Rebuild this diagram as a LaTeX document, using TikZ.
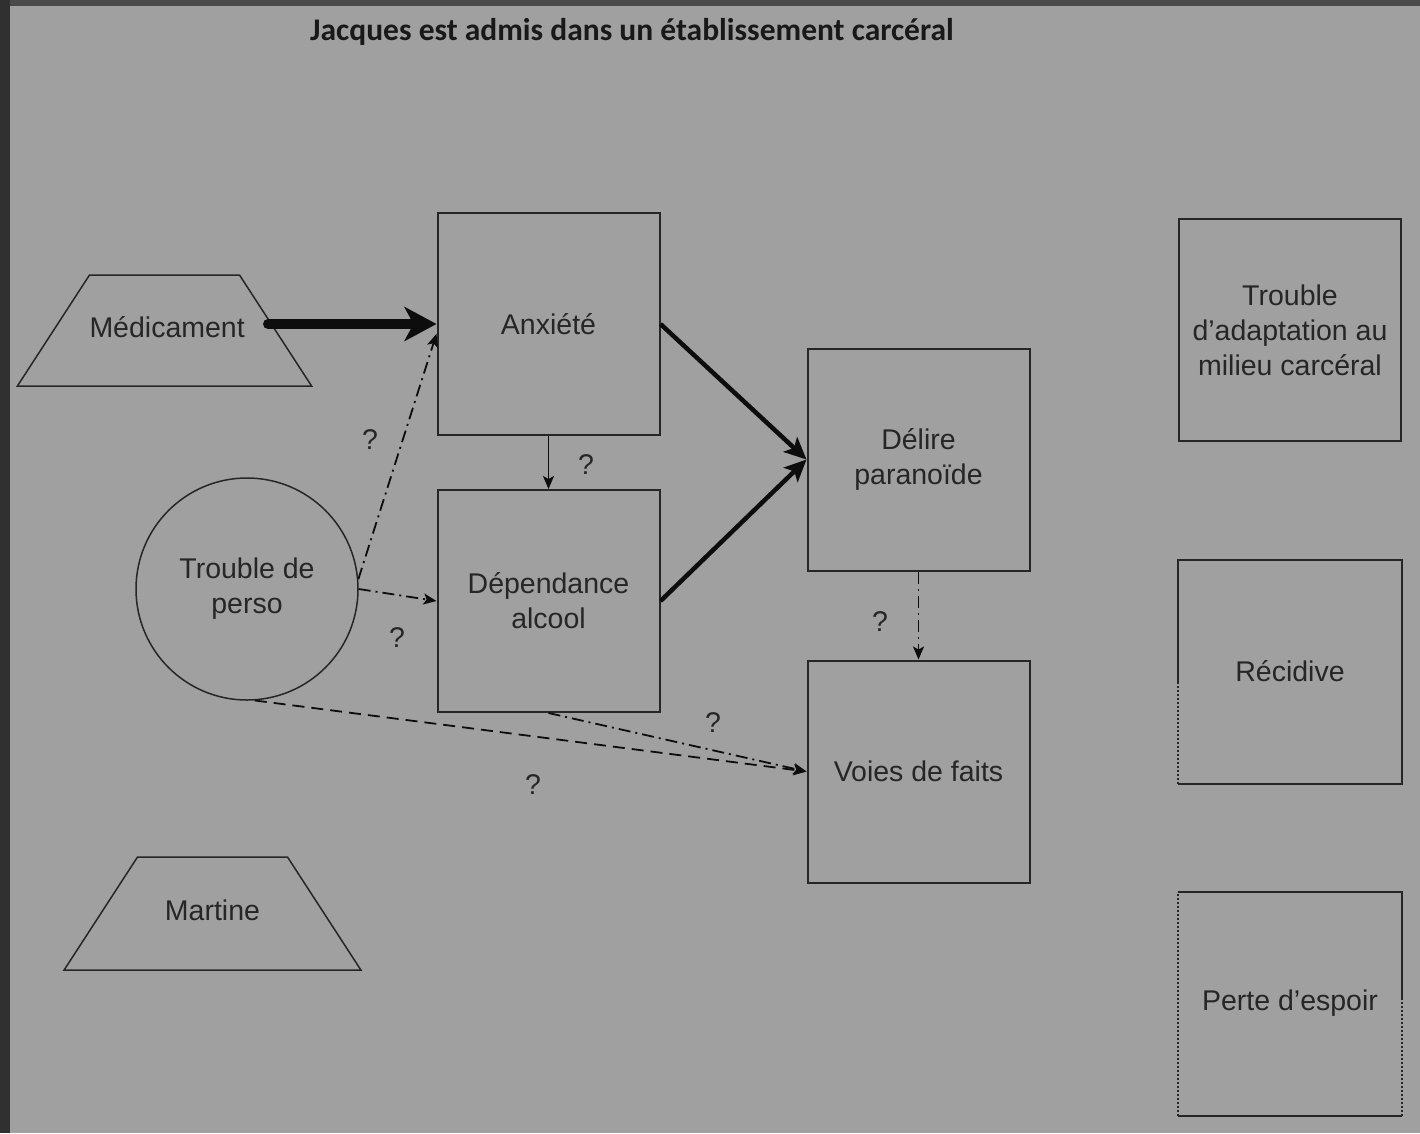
\documentclass[tikz,border=0pt]{standalone}
\usepackage{fontspec}
\setmainfont{Liberation Sans}
\newfontfamily\titlefont{Carlito}
\usetikzlibrary{positioning, shapes.geometric, arrows.meta, calc}
\definecolor{bggray}{HTML}{A0A0A0}
\definecolor{ink}{HTML}{262626}
\definecolor{edgeink}{HTML}{0D0D0D}
\definecolor{frameleft}{HTML}{303030}
\definecolor{frametop}{HTML}{4A4A4A}
\tikzset{
    x = 1pt, y = -1pt,                                    % Work in pixels, top down
    every node/.append style={text=ink, font=\fontsize{28.5}{35}\selectfont},
    box/.style={draw=ink, line width=2pt, minimum width=222pt,
        minimum height=222pt, inner sep=0pt, align=center}, % Square boxes
    trap/.style={trapezium, trapezium left angle=57, trapezium right angle=57,
        draw=ink, line width=1.5pt, inner xsep=0pt, text width=150pt,
        text height=20pt, text depth=6pt, align=center},  % Top edge = text width
    outline/.style={draw=ink, line width=2pt},            % Partial box borders
    dotline/.style={outline, dash pattern=on 2pt off 2pt},
    heavy/.style={edgeink, line width=10pt, line cap=round,
        -{Stealth[length=32pt, width=34pt, inset=9pt]}},
    strong/.style={edgeink, line width=4.5pt, -{Stealth[length=22pt, width=20pt, inset=5pt]}},
    thin/.style={edgeink, line width=1.8pt, -{Stealth[length=13pt, width=11pt, inset=3pt]}},
    dashdot/.style={thin, dash pattern=on 12pt off 5pt on 2pt off 5pt},
    dashline/.style={thin, dash pattern=on 12pt off 7pt}
}
\begin{document}
\begin{tikzpicture}
    \useasboundingbox (0,0) rectangle (1420,1133);
    \fill[frametop] (0,0) rectangle (1420,1133);
    \fill[frameleft] (0,0) rectangle (10,1133);
    \fill[bggray] (10,6) rectangle (1420,1133);

    \node[text=black!90, font=\titlefont\bfseries\fontsize{31.5}{36}\selectfont] (title) at (632,32) {Jacques est admis dans un établissement carcéral};

    \node [trap, inner ysep=42.5pt] (med) at (164.5,330.5) {Médicament};
    \node [trap, inner ysep=43.5pt] (mar) at (212.5,913.5) {Martine};
    \node [circle, draw=ink, line width=1.5pt, minimum size=222pt, inner sep=0pt, align=center] (tp) at (247,589) {Trouble de\\perso};

    \node [box] (anx) at (548.5,324) {Anxiété};
    \node [box, below = 53pt of anx] (dep) {Dépendance\\alcool};
    \node [box] (del) at (918.5,459.5) {Délire\\paranoïde};
    \node [box, below = 88pt of del] (voi) {Voies de faits};

    \node [box] (tad) at (1290,330) {Trouble\\d’adaptation au\\milieu carcéral};
    \node [box, draw=none] (rec) at (1290,671.5) {Récidive};
    \node [box, draw=none] (pde) at (1290,1003.5) {Perte d’espoir};

    % partly dotted borders
    \coordinate (recm) at ($(rec.north west)!0.55!(rec.south west)$);
    \draw[outline] (recm) -- (rec.north west) -- (rec.north east) -- (rec.south east) -- (rec.south west);
    \draw[dotline] (rec.south west) -- (recm);
    \coordinate (pdem) at ($(pde.north east)!0.475!(pde.south east)$);
    \draw[outline] (pde.north west) -- (pde.north east) -- (pdem);
    \draw[outline] (pde.south east) -- (pde.south west);
    \draw[dotline] (pdem) -- (pde.south east);
    \draw[dotline] (pde.south west) -- (pde.north west);

    \coordinate (medend) at (268,324);

    \draw   (medend) edge [heavy] (anx.west)
            (anx.east) edge [strong] (del.west)
            (dep.east) edge [strong] (del.west)
            (anx.south) edge [thin] (dep.north)
            (tp.5) edge [dashdot] (anx.185)
            (tp.east) edge [dashdot] (dep.west)
            (tp.-86) edge [dashline] (voi.west)
            (dep.south) edge [dashdot] (voi.west)
            (del.south) edge [dashdot] (voi.north);

    \node (q1) at (586,465) {?};
    \node (q2) at (370,440) {?};
    \node (q3) at (397,638) {?};
    \node (q4) at (713,723) {?};
    \node (q5) at (533,785) {?};
    \node (q6) at (880,622) {?};
\end{tikzpicture}
\end{document}
